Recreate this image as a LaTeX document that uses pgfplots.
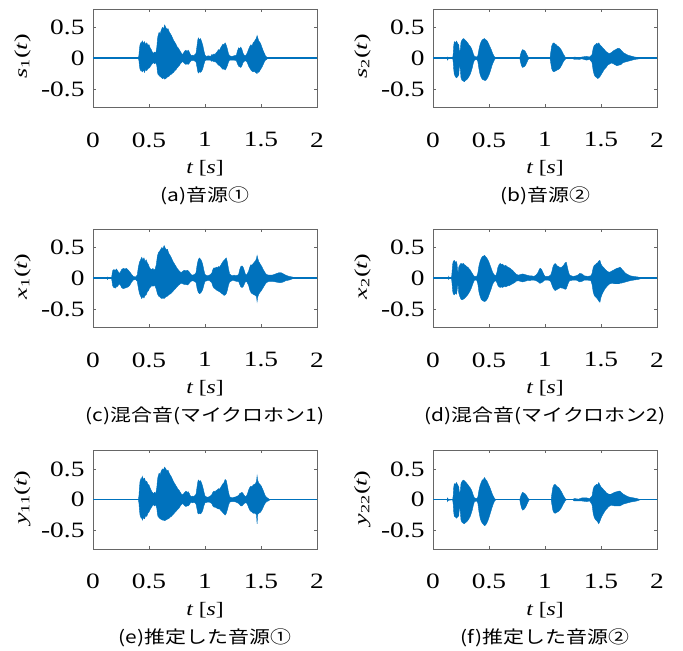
\documentclass[border=0pt]{standalone}
\usepackage{fontspec}
\setmainfont{Liberation Serif}[FakeStretch=1.25]
\newfontfamily\cjk{Noto Sans CJK JP}[FakeStretch=1.2]
\newfontfamily\ylab{Liberation Serif}[FakeStretch=1.45]
\usepackage{pgfplots}
\usepackage{pgfplotstable}
\pgfplotsset{compat=1.18}
\usepgfplotslibrary{fillbetween}
\definecolor{mblue}{HTML}{0072BD}

\pgfplotstableread{
t u l
0 0 0
0.405 0 0
0.41 0.05 -0.04
0.415 0.16 -0.13
0.42 0.22 -0.18
0.43 0.26 -0.21
0.435 0.23 -0.17
0.44 0.28 -0.22
0.45 0.24 -0.19
0.46 0.27 -0.23
0.47 0.22 -0.18
0.48 0.25 -0.20
0.49 0.21 -0.17
0.50 0.22 -0.16
0.51 0.17 -0.14
0.52 0.14 -0.11
0.53 0.10 -0.09
0.54 0.08 -0.07
0.55 0.10 -0.09
0.56 0.08 -0.07
0.57 0.18 -0.12
0.575 0.30 -0.22
0.58 0.36 -0.26
0.59 0.42 -0.28
0.60 0.40 -0.30
0.61 0.46 -0.31
0.62 0.50 -0.33
0.63 0.48 -0.32
0.64 0.54 -0.34
0.65 0.50 -0.33
0.66 0.47 -0.31
0.67 0.48 -0.30
0.68 0.43 -0.29
0.69 0.40 -0.27
0.70 0.37 -0.26
0.71 0.33 -0.24
0.72 0.29 -0.23
0.73 0.26 -0.20
0.74 0.23 -0.19
0.75 0.19 -0.16
0.76 0.17 -0.14
0.77 0.14 -0.12
0.78 0.11 -0.09
0.79 0.08 -0.07
0.80 0.06 -0.05
0.81 0.09 -0.07
0.82 0.12 -0.09
0.83 0.13 -0.10
0.84 0.11 -0.09
0.85 0.13 -0.10
0.86 0.10 -0.08
0.87 0.06 -0.05
0.88 0.04 -0.04
0.89 0.05 -0.04
0.90 0.04 -0.03
0.91 0.06 -0.05
0.92 0.08 -0.06
0.93 0.22 -0.16
0.935 0.29 -0.21
0.94 0.33 -0.24
0.95 0.30 -0.22
0.96 0.32 -0.23
0.97 0.27 -0.21
0.98 0.21 -0.17
0.99 0.12 -0.10
1.00 0.05 -0.04
1.01 0.03 -0.03
1.03 0.04 -0.03
1.05 0.03 -0.03
1.06 0.06 -0.05
1.07 0.05 -0.04
1.08 0.07 -0.06
1.09 0.06 -0.05
1.10 0.09 -0.07
1.11 0.11 -0.09
1.12 0.14 -0.11
1.13 0.13 -0.12
1.14 0.17 -0.14
1.15 0.20 -0.16
1.16 0.23 -0.18
1.17 0.22 -0.17
1.18 0.25 -0.19
1.19 0.21 -0.16
1.20 0.15 -0.12
1.21 0.07 -0.06
1.22 0.04 -0.03
1.24 0.03 -0.03
1.26 0.04 -0.03
1.28 0.05 -0.04
1.29 0.12 -0.09
1.30 0.17 -0.13
1.31 0.15 -0.14
1.32 0.18 -0.15
1.33 0.14 -0.12
1.34 0.08 -0.07
1.35 0.05 -0.05
1.36 0.04 -0.04
1.37 0.06 -0.05
1.38 0.10 -0.08
1.39 0.15 -0.13
1.40 0.19 -0.16
1.41 0.22 -0.19
1.42 0.20 -0.21
1.43 0.25 -0.22
1.44 0.27 -0.21
1.45 0.30 -0.23
1.46 0.33 -0.24
1.465 0.37 -0.25
1.47 0.34 -0.22
1.48 0.28 -0.23
1.49 0.26 -0.20
1.50 0.22 -0.17
1.51 0.17 -0.14
1.52 0.12 -0.10
1.53 0.08 -0.06
1.54 0.04 -0.03
1.55 0.02 -0.02
1.56 0 0
2 0 0
}\sA

\pgfplotstableread{
t u l
0 0 0
0.125 0 0
0.13 0.02 -0.03
0.135 0.01 -0.01
0.175 0 0
0.18 0.06 -0.05
0.185 0.20 -0.18
0.19 0.27 -0.26
0.20 0.25 -0.30
0.21 0.28 -0.32
0.22 0.24 -0.30
0.23 0.22 -0.27
0.235 0.12 -0.14
0.24 0.10 -0.12
0.245 0.16 -0.20
0.25 0.26 -0.32
0.26 0.30 -0.36
0.27 0.32 -0.37
0.28 0.31 -0.38
0.29 0.29 -0.36
0.30 0.27 -0.35
0.31 0.25 -0.33
0.32 0.22 -0.30
0.33 0.20 -0.27
0.34 0.17 -0.22
0.35 0.13 -0.16
0.36 0.07 -0.08
0.37 0.03 -0.03
0.39 0.02 -0.02
0.40 0.04 -0.05
0.41 0.14 -0.17
0.42 0.22 -0.26
0.43 0.27 -0.31
0.44 0.30 -0.34
0.45 0.31 -0.35
0.46 0.32 -0.36
0.47 0.30 -0.36
0.48 0.29 -0.34
0.49 0.26 -0.31
0.50 0.22 -0.27
0.51 0.18 -0.22
0.52 0.14 -0.16
0.53 0.09 -0.10
0.54 0.05 -0.06
0.55 0.02 -0.02
0.56 0 0
0.775 0 0
0.78 0.05 -0.05
0.79 0.11 -0.12
0.80 0.14 -0.15
0.81 0.13 -0.14
0.82 0.12 -0.13
0.83 0.09 -0.10
0.84 0.05 -0.06
0.85 0.02 -0.02
0.86 0 0
1.045 0 0
1.05 0.08 -0.06
1.06 0.20 -0.17
1.07 0.24 -0.21
1.08 0.25 -0.22
1.09 0.23 -0.21
1.10 0.22 -0.20
1.11 0.20 -0.19
1.12 0.19 -0.18
1.13 0.17 -0.17
1.14 0.15 -0.14
1.15 0.12 -0.11
1.16 0.08 -0.07
1.17 0.05 -0.04
1.18 0.02 -0.02
1.19 0 0
1.25 0 0
1.26 0.02 -0.02
1.30 0.01 -0.02
1.33 0.02 -0.01
1.37 0.03 -0.03
1.40 0.02 -0.02
1.42 0.06 -0.07
1.43 0.16 -0.20
1.44 0.21 -0.27
1.45 0.22 -0.30
1.46 0.24 -0.31
1.47 0.23 -0.33
1.48 0.25 -0.32
1.49 0.22 -0.30
1.50 0.20 -0.27
1.51 0.18 -0.24
1.52 0.16 -0.21
1.53 0.14 -0.18
1.54 0.12 -0.16
1.55 0.10 -0.14
1.56 0.09 -0.11
1.57 0.08 -0.10
1.58 0.08 -0.09
1.59 0.09 -0.08
1.60 0.10 -0.08
1.61 0.12 -0.09
1.62 0.13 -0.10
1.63 0.14 -0.11
1.64 0.15 -0.12
1.65 0.16 -0.12
1.66 0.16 -0.11
1.67 0.15 -0.11
1.68 0.13 -0.10
1.69 0.11 -0.08
1.70 0.09 -0.07
1.72 0.07 -0.06
1.74 0.05 -0.05
1.76 0.04 -0.04
1.78 0.03 -0.03
1.80 0.02 -0.02
1.84 0.01 -0.01
1.88 0 0
2 0 0
}\sB

\pgfplotstableread{
t u l
0 0 0
0.125 0 0
0.13 0.02 -0.02
0.135 0 0
0.165 0 0
0.17 0.06 -0.05
0.175 0.12 -0.12
0.185 0.14 -0.15
0.20 0.13 -0.16
0.21 0.15 -0.14
0.22 0.12 -0.13
0.235 0.08 -0.09
0.245 0.10 -0.11
0.255 0.14 -0.15
0.27 0.16 -0.17
0.285 0.15 -0.16
0.30 0.16 -0.15
0.315 0.13 -0.14
0.33 0.10 -0.11
0.345 0.06 -0.06
0.36 0.03 -0.03
0.38 0.02 -0.02
0.395 0.05 -0.05
0.405 0.18 -0.16
0.415 0.26 -0.25
0.425 0.30 -0.29
0.435 0.34 -0.33
0.445 0.30 -0.30
0.455 0.33 -0.32
0.465 0.27 -0.28
0.475 0.30 -0.27
0.485 0.25 -0.22
0.495 0.22 -0.20
0.505 0.17 -0.16
0.515 0.15 -0.14
0.525 0.14 -0.12
0.535 0.16 -0.13
0.545 0.13 -0.12
0.555 0.15 -0.13
0.565 0.22 -0.18
0.575 0.36 -0.25
0.585 0.42 -0.29
0.595 0.44 -0.30
0.605 0.47 -0.32
0.615 0.50 -0.33
0.625 0.48 -0.32
0.635 0.53 -0.33
0.645 0.49 -0.31
0.655 0.46 -0.30
0.665 0.47 -0.29
0.675 0.41 -0.27
0.685 0.38 -0.26
0.695 0.35 -0.25
0.705 0.31 -0.23
0.715 0.27 -0.21
0.725 0.24 -0.19
0.735 0.21 -0.17
0.745 0.18 -0.15
0.755 0.15 -0.13
0.765 0.13 -0.11
0.775 0.11 -0.10
0.785 0.09 -0.08
0.80 0.11 -0.09
0.815 0.13 -0.10
0.83 0.12 -0.10
0.845 0.13 -0.11
0.86 0.10 -0.08
0.875 0.06 -0.05
0.89 0.05 -0.04
0.905 0.06 -0.05
0.92 0.09 -0.07
0.93 0.22 -0.17
0.94 0.30 -0.23
0.95 0.33 -0.25
0.96 0.31 -0.24
0.97 0.28 -0.22
0.98 0.22 -0.18
0.99 0.13 -0.11
1.00 0.06 -0.05
1.02 0.04 -0.04
1.04 0.05 -0.04
1.06 0.08 -0.07
1.07 0.14 -0.13
1.08 0.17 -0.16
1.09 0.16 -0.17
1.10 0.18 -0.19
1.11 0.17 -0.20
1.12 0.19 -0.21
1.13 0.18 -0.22
1.14 0.21 -0.23
1.15 0.24 -0.25
1.16 0.27 -0.26
1.17 0.29 -0.28
1.18 0.31 -0.27
1.19 0.33 -0.25
1.20 0.26 -0.19
1.21 0.15 -0.11
1.22 0.07 -0.06
1.24 0.04 -0.04
1.26 0.05 -0.04
1.28 0.04 -0.05
1.30 0.06 -0.05
1.31 0.14 -0.10
1.32 0.19 -0.14
1.33 0.20 -0.15
1.34 0.18 -0.14
1.35 0.13 -0.10
1.36 0.07 -0.06
1.37 0.05 -0.05
1.38 0.08 -0.08
1.39 0.12 -0.12
1.40 0.18 -0.19
1.41 0.22 -0.23
1.42 0.21 -0.25
1.43 0.24 -0.26
1.44 0.26 -0.27
1.45 0.28 -0.28
1.46 0.32 -0.30
1.465 0.37 -0.38
1.47 0.33 -0.31
1.48 0.27 -0.26
1.49 0.24 -0.23
1.50 0.21 -0.21
1.51 0.18 -0.18
1.52 0.14 -0.15
1.53 0.11 -0.12
1.54 0.08 -0.09
1.55 0.06 -0.07
1.57 0.05 -0.05
1.60 0.05 -0.05
1.63 0.07 -0.06
1.66 0.09 -0.07
1.68 0.09 -0.07
1.70 0.07 -0.06
1.72 0.05 -0.04
1.75 0.03 -0.03
1.78 0.02 -0.01
1.80 0 0
2 0 0
}\sC

\pgfplotstableread{
t u l
0 0 0
0.135 0 0
0.14 0.03 -0.02
0.145 0 0
0.165 0 0
0.17 0.10 -0.08
0.175 0.22 -0.20
0.18 0.27 -0.25
0.19 0.29 -0.27
0.20 0.26 -0.24
0.21 0.27 -0.26
0.215 0.22 -0.20
0.22 0.12 -0.12
0.225 0.10 -0.12
0.23 0.18 -0.24
0.24 0.22 -0.30
0.25 0.24 -0.34
0.26 0.23 -0.35
0.27 0.24 -0.34
0.28 0.22 -0.33
0.29 0.21 -0.31
0.30 0.19 -0.29
0.31 0.18 -0.27
0.32 0.16 -0.24
0.33 0.14 -0.21
0.34 0.11 -0.17
0.35 0.08 -0.12
0.36 0.05 -0.07
0.37 0.03 -0.03
0.39 0.03 -0.03
0.40 0.08 -0.09
0.41 0.20 -0.22
0.42 0.27 -0.29
0.43 0.32 -0.34
0.44 0.35 -0.36
0.45 0.36 -0.37
0.46 0.37 -0.38
0.47 0.35 -0.37
0.48 0.33 -0.35
0.49 0.30 -0.32
0.50 0.26 -0.27
0.51 0.21 -0.22
0.52 0.16 -0.17
0.53 0.11 -0.11
0.54 0.07 -0.07
0.55 0.05 -0.05
0.56 0.04 -0.04
0.57 0.09 -0.07
0.58 0.18 -0.12
0.59 0.22 -0.14
0.60 0.24 -0.15
0.61 0.22 -0.14
0.62 0.23 -0.15
0.63 0.21 -0.14
0.64 0.20 -0.13
0.65 0.21 -0.14
0.66 0.19 -0.13
0.67 0.18 -0.12
0.68 0.17 -0.12
0.69 0.16 -0.11
0.70 0.14 -0.10
0.71 0.13 -0.09
0.72 0.11 -0.08
0.73 0.09 -0.07
0.74 0.07 -0.05
0.76 0.05 -0.04
0.78 0.06 -0.05
0.80 0.07 -0.06
0.82 0.06 -0.05
0.84 0.05 -0.04
0.86 0.04 -0.04
0.88 0.04 -0.03
0.90 0.03 -0.03
0.92 0.05 -0.04
0.94 0.10 -0.06
0.95 0.15 -0.08
0.96 0.16 -0.08
0.97 0.14 -0.07
0.98 0.10 -0.06
0.99 0.06 -0.04
1.00 0.03 -0.03
1.03 0.03 -0.03
1.05 0.05 -0.05
1.06 0.10 -0.10
1.07 0.18 -0.15
1.08 0.22 -0.18
1.09 0.24 -0.20
1.10 0.22 -0.19
1.11 0.20 -0.18
1.12 0.19 -0.17
1.13 0.18 -0.16
1.14 0.17 -0.15
1.15 0.18 -0.16
1.16 0.20 -0.16
1.17 0.22 -0.17
1.18 0.25 -0.18
1.19 0.26 -0.17
1.20 0.18 -0.12
1.21 0.10 -0.07
1.22 0.05 -0.04
1.25 0.03 -0.03
1.28 0.04 -0.03
1.30 0.06 -0.05
1.31 0.08 -0.06
1.33 0.07 -0.05
1.35 0.04 -0.03
1.38 0.03 -0.03
1.41 0.04 -0.04
1.42 0.08 -0.10
1.43 0.17 -0.22
1.44 0.21 -0.28
1.45 0.22 -0.30
1.46 0.24 -0.32
1.47 0.25 -0.34
1.48 0.28 -0.37
1.49 0.29 -0.39
1.50 0.23 -0.31
1.51 0.20 -0.26
1.52 0.18 -0.22
1.53 0.16 -0.19
1.54 0.14 -0.16
1.55 0.12 -0.14
1.56 0.11 -0.12
1.57 0.10 -0.10
1.58 0.10 -0.09
1.60 0.12 -0.08
1.62 0.14 -0.09
1.64 0.16 -0.09
1.66 0.17 -0.09
1.67 0.18 -0.08
1.68 0.16 -0.08
1.70 0.12 -0.07
1.72 0.08 -0.06
1.74 0.06 -0.05
1.76 0.04 -0.04
1.79 0.03 -0.03
1.83 0.02 -0.02
1.87 0 0
2 0 0
}\sD

\pgfplotstableread{
t u l
0 0 0
0.405 0 0
0.41 0.06 -0.05
0.415 0.20 -0.17
0.42 0.30 -0.25
0.43 0.35 -0.30
0.435 0.31 -0.27
0.44 0.38 -0.33
0.45 0.33 -0.29
0.46 0.35 -0.31
0.47 0.29 -0.26
0.48 0.30 -0.27
0.49 0.25 -0.22
0.50 0.24 -0.20
0.51 0.19 -0.16
0.52 0.15 -0.13
0.53 0.12 -0.10
0.54 0.10 -0.08
0.55 0.12 -0.10
0.56 0.10 -0.08
0.57 0.20 -0.14
0.575 0.31 -0.23
0.58 0.37 -0.27
0.59 0.43 -0.29
0.60 0.41 -0.31
0.61 0.47 -0.32
0.62 0.50 -0.33
0.63 0.49 -0.33
0.64 0.53 -0.34
0.65 0.50 -0.33
0.66 0.47 -0.32
0.67 0.48 -0.31
0.68 0.43 -0.30
0.69 0.40 -0.28
0.70 0.37 -0.27
0.71 0.33 -0.25
0.72 0.29 -0.23
0.73 0.26 -0.21
0.74 0.23 -0.19
0.75 0.20 -0.17
0.76 0.17 -0.15
0.77 0.15 -0.13
0.78 0.12 -0.10
0.79 0.09 -0.08
0.80 0.08 -0.06
0.81 0.10 -0.08
0.82 0.12 -0.10
0.83 0.14 -0.11
0.84 0.12 -0.10
0.85 0.13 -0.10
0.86 0.10 -0.08
0.87 0.06 -0.05
0.88 0.05 -0.04
0.89 0.06 -0.05
0.90 0.05 -0.04
0.91 0.07 -0.05
0.92 0.09 -0.07
0.93 0.22 -0.16
0.935 0.28 -0.21
0.94 0.32 -0.23
0.95 0.30 -0.22
0.96 0.31 -0.23
0.97 0.27 -0.21
0.98 0.21 -0.17
0.99 0.13 -0.10
1.00 0.06 -0.05
1.02 0.04 -0.04
1.04 0.05 -0.04
1.06 0.08 -0.06
1.07 0.12 -0.10
1.08 0.14 -0.12
1.09 0.13 -0.12
1.10 0.15 -0.13
1.11 0.16 -0.14
1.12 0.18 -0.15
1.13 0.17 -0.15
1.14 0.20 -0.17
1.15 0.23 -0.19
1.16 0.26 -0.21
1.17 0.28 -0.23
1.18 0.33 -0.25
1.19 0.31 -0.22
1.20 0.22 -0.16
1.21 0.12 -0.09
1.22 0.05 -0.04
1.24 0.03 -0.03
1.26 0.04 -0.03
1.28 0.05 -0.04
1.30 0.07 -0.06
1.31 0.10 -0.08
1.32 0.11 -0.10
1.33 0.12 -0.10
1.34 0.10 -0.08
1.35 0.07 -0.06
1.36 0.05 -0.05
1.37 0.06 -0.05
1.38 0.10 -0.08
1.39 0.16 -0.13
1.40 0.20 -0.17
1.41 0.22 -0.19
1.42 0.21 -0.20
1.43 0.24 -0.22
1.44 0.25 -0.22
1.45 0.26 -0.22
1.46 0.30 -0.25
1.465 0.39 -0.39
1.47 0.32 -0.24
1.48 0.27 -0.22
1.49 0.25 -0.21
1.50 0.23 -0.19
1.51 0.19 -0.16
1.52 0.15 -0.12
1.53 0.10 -0.08
1.54 0.06 -0.05
1.55 0.04 -0.03
1.565 0.02 -0.02
1.58 0 0
2 0 0
}\sE

\pgfplotstableread{
t u l
0 0 0
0.125 0 0
0.13 0.03 -0.03
0.135 0.01 -0.01
0.175 0 0
0.18 0.06 -0.06
0.185 0.20 -0.20
0.19 0.26 -0.27
0.20 0.25 -0.28
0.21 0.28 -0.30
0.22 0.24 -0.28
0.23 0.21 -0.26
0.235 0.12 -0.14
0.24 0.10 -0.12
0.245 0.16 -0.22
0.25 0.26 -0.33
0.26 0.30 -0.37
0.27 0.32 -0.38
0.28 0.31 -0.39
0.29 0.29 -0.37
0.30 0.27 -0.36
0.31 0.25 -0.34
0.32 0.22 -0.31
0.33 0.20 -0.28
0.34 0.17 -0.23
0.35 0.13 -0.17
0.36 0.07 -0.09
0.37 0.03 -0.03
0.39 0.02 -0.02
0.40 0.04 -0.05
0.41 0.15 -0.19
0.42 0.23 -0.29
0.43 0.28 -0.35
0.44 0.32 -0.38
0.45 0.33 -0.40
0.46 0.36 -0.42
0.47 0.33 -0.41
0.48 0.31 -0.38
0.49 0.27 -0.34
0.50 0.23 -0.29
0.51 0.19 -0.23
0.52 0.14 -0.17
0.53 0.09 -0.11
0.54 0.05 -0.06
0.55 0.02 -0.02
0.56 0 0
0.775 0 0
0.78 0.04 -0.06
0.79 0.09 -0.13
0.80 0.12 -0.17
0.81 0.11 -0.16
0.82 0.10 -0.14
0.83 0.08 -0.11
0.84 0.05 -0.07
0.85 0.02 -0.03
0.86 0 0
1.055 0 0
1.06 0.08 -0.06
1.07 0.20 -0.17
1.08 0.24 -0.21
1.09 0.25 -0.22
1.10 0.23 -0.21
1.11 0.21 -0.20
1.12 0.20 -0.19
1.13 0.18 -0.17
1.14 0.15 -0.15
1.15 0.12 -0.12
1.16 0.08 -0.08
1.17 0.05 -0.05
1.18 0.02 -0.02
1.19 0 0
1.25 0 0
1.26 0.02 -0.02
1.30 0.01 -0.02
1.33 0.03 -0.02
1.37 0.03 -0.03
1.40 0.02 -0.02
1.42 0.06 -0.08
1.43 0.17 -0.22
1.44 0.22 -0.29
1.45 0.23 -0.32
1.46 0.25 -0.34
1.47 0.24 -0.36
1.48 0.28 -0.39
1.49 0.24 -0.35
1.50 0.21 -0.30
1.51 0.19 -0.26
1.52 0.17 -0.23
1.53 0.15 -0.20
1.54 0.13 -0.17
1.55 0.11 -0.15
1.56 0.10 -0.13
1.57 0.09 -0.11
1.58 0.09 -0.10
1.59 0.09 -0.09
1.60 0.10 -0.09
1.62 0.12 -0.10
1.64 0.13 -0.10
1.66 0.14 -0.10
1.67 0.14 -0.10
1.68 0.12 -0.09
1.70 0.09 -0.07
1.72 0.07 -0.06
1.74 0.05 -0.05
1.76 0.04 -0.04
1.79 0.03 -0.03
1.82 0.02 -0.02
1.85 0 0
2 0 0
}\sF

\pgfplotsset{
  wave/.style={
    scale only axis, width=224bp, height=98.5bp, anchor=south west,
    xmin=0, xmax=2, ymin=-0.8, ymax=0.8, clip=false,
    xtick={0,0.5,1,1.5,2}, ytick={-0.5,0,0.5},
    tick align=inside, tick pos=both, major tick length=3bp,
    axis line style={black!60, line width=0.8bp},
    every tick/.style={black!60, line width=0.6bp},
    /pgf/number format/assume math mode=true,
    tick label style={font=\fontsize{22}{24}\selectfont},
    xticklabel style={yshift=-21.5bp},
    yticklabel style={xshift=-5bp},
    xlabel={{\itshape t} [{\itshape s}]},
    xlabel style={at={(axis description cs:0.5,-0.62)}, anchor=center, font=\fontsize{19}{21}\selectfont},
    ylabel style={at={(axis description cs:-0.315,0.52)}, anchor=center, font=\ylab\fontsize{18}{20}\selectfont},
  },
}
\newcommand{\drawwave}[1]{%
  \addplot[name path=U, draw=mblue, line width=0.4bp] table[x=t,y=u]{#1};
  \addplot[name path=L, draw=mblue, line width=0.4bp] table[x=t,y=l]{#1};
  \addplot[mblue, draw=none] fill between[of=U and L];
  \addplot[mblue, line width=1.5bp] coordinates {(0,0) (2,0)};
}
\newcommand{\capt}[1]{\node[font=\cjk\fontsize{17.5}{19}\selectfont] at (rel axis cs:0.5,-0.9) {#1};}

\begin{document}
\begin{tikzpicture}
\begin{axis}[wave, at={(93bp,536.5bp)}, ylabel={{\itshape s}\textsubscript{1}({\itshape t})}]
\drawwave{\sA}
\capt{(a)音源①}
\end{axis}
\begin{axis}[wave, at={(433bp,536.5bp)}, ylabel={{\itshape s}\textsubscript{2}({\itshape t})}]
\drawwave{\sB}
\capt{(b)音源②}
\end{axis}
\begin{axis}[wave, at={(93bp,316.5bp)}, ylabel={{\itshape x}\textsubscript{1}({\itshape t})}]
\drawwave{\sC}
\capt{(c)混合音(マイクロホン1)}
\end{axis}
\begin{axis}[wave, at={(433bp,316.5bp)}, ylabel={{\itshape x}\textsubscript{2}({\itshape t})}]
\drawwave{\sD}
\capt{(d)混合音(マイクロホン2)}
\end{axis}
\begin{axis}[wave, at={(93bp,95bp)}, ylabel={{\itshape y}\textsubscript{11}({\itshape t})}]
\drawwave{\sE}
\capt{(e)推定した音源①}
\end{axis}
\begin{axis}[wave, at={(433bp,95bp)}, ylabel={{\itshape y}\textsubscript{22}({\itshape t})}]
\drawwave{\sF}
\capt{(f)推定した音源②}
\end{axis}
\path (0,0) rectangle (683bp,644bp);
\end{tikzpicture}
\end{document}
